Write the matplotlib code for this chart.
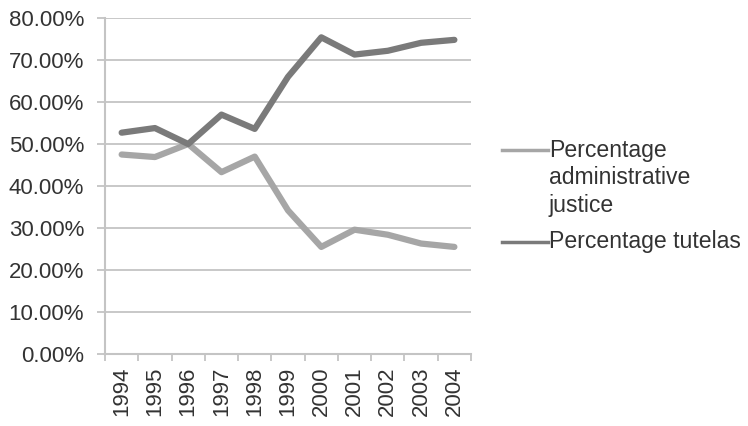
import numpy as np
import matplotlib
matplotlib.use('Agg')
import matplotlib.pyplot as plt
from matplotlib.lines import Line2D
from matplotlib.ticker import FuncFormatter

plt.rcParams['font.family'] = ['Liberation Sans', 'DejaVu Sans']

years = ['1994', '1995', '1996', '1997', '1998', '1999', '2000', '2001', '2002', '2003', '2004']
admin_justice = [47.5, 46.9, 50.0, 43.3, 47.0, 34.2, 25.5, 29.6, 28.4, 26.3, 25.5]
tutelas = [52.7, 53.8, 50.0, 57.0, 53.6, 66.0, 75.4, 71.3, 72.2, 74.1, 74.8]
series_labels = ['Percentage\nadministrative\njustice', 'Percentage tutelas']
series_colors = ['#a6a6a6', '#7a7a7a']

grid_color = '#c4c4c4'
text_color = '#333333'

fig = plt.figure(figsize=(7.48, 4.26), dpi=100)
ax = fig.add_axes([0.1404, 0.169, 0.4893, 0.7887])

x = np.arange(len(years))
ax.plot(x, admin_justice, color=series_colors[0], lw=4.5, solid_capstyle='round', zorder=3)
ax.plot(x, tutelas, color=series_colors[1], lw=4.5, solid_capstyle='round', zorder=3)

ax.set_xlim(-0.5, len(years) - 0.5)
ax.set_ylim(0, 80)
ax.set_yticks(np.arange(0, 81, 10))
ax.yaxis.set_major_formatter(FuncFormatter(lambda v, p: f'{v:.2f}%'))
ax.yaxis.grid(True, color=grid_color, lw=1.3)
ax.set_axisbelow(True)

ax.set_xticks(x)
ax.set_xticklabels(years, rotation=90)
ax.set_xticks(np.arange(-0.5, len(years), 1), minor=True)
ax.tick_params(axis='x', which='major', length=0, pad=9)
ax.tick_params(axis='x', which='minor', length=5, color=grid_color, width=1.3)
ax.tick_params(axis='y', length=6, color=grid_color, width=1.3, pad=9)
ax.tick_params(labelsize=16, labelcolor=text_color)

for side in ['top', 'right']:
    ax.spines[side].set_visible(False)
for side in ['left', 'bottom']:
    ax.spines[side].set_color(grid_color)
    ax.spines[side].set_linewidth(1.5)

# legend drawn by hand so the key sits beside the first line of the label
key_x0, key_x1, text_x = 502 / 748, 548 / 748, 549 / 748
key_ys = [1 - 150 / 426, 1 - 242 / 426]
text_tops = [1 - 139 / 426, 1 - 230 / 426]
for label, color, ky, ty in zip(series_labels, series_colors, key_ys, text_tops):
    fig.add_artist(Line2D([key_x0, key_x1], [ky, ky], color=color, lw=2.5,
                          transform=fig.transFigure))
    fig.text(text_x, ty, label, fontsize=16.6, color=text_color,
             va='top', ha='left', linespacing=1.25)

fig.savefig('out.png', dpi=100)
